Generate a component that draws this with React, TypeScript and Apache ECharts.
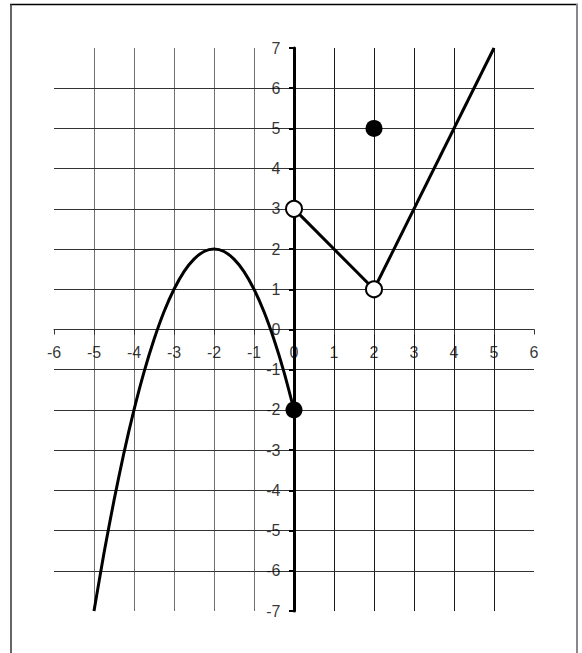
import React, { useEffect, useRef } from "react";
import * as echarts from "echarts";

const xRange = [-6, 6];
const yRange = [-7, 7];
const xTickLabels = [-6, -5, -4, -3, -2, -1, 0, 1, 2, 3, 4, 5, 6];
const yTickLabels = [-7, -6, -5, -4, -3, -2, -1, 0, 1, 2, 3, 4, 5, 6, 7];
const parabolaX = [-5, -4.75, -4.5, -4.25, -4, -3.75, -3.5, -3.25, -3, -2.75, -2.5, -2.25, -2, -1.75, -1.5, -1.25, -1, -0.75, -0.5, -0.25, 0];
const parabolaY = [-7, -5.56, -4.25, -3.06, -2, -1.06, -0.25, 0.44, 1, 1.44, 1.75, 1.94, 2, 1.94, 1.75, 1.44, 1, 0.44, -0.25, -1.06, -2];
const middleSegment = [[0, 3], [2, 1]];
const rightSegment = [[2, 1], [5, 7]];
const openPoints = [[0, 3], [2, 1]];
const filledPoints = [[0, -2], [2, 5]];

const W = 582;
const H = 653;

export default function App() {
  const ref = useRef<HTMLDivElement>(null);
  useEffect(() => {
    document.body.style.margin = "0";
    const chart = echarts.init(ref.current!, null, { renderer: "svg" });
    const font = { fontFamily: "'Liberation Sans', Arial, sans-serif", fontSize: 16, color: "#000" };
    const xCount = xRange[1] - xRange[0] + 1;
    const yCount = yRange[1] - yRange[0] + 1;
    const xColors: string[] = [];
    for (let i = 0; i < xCount; i++) {
      const v = xRange[0] + i;
      xColors.push(i === 0 || i === xCount - 1 ? "rgba(0,0,0,0)" : v < 0 ? "#707070" : "#1a1a1a");
    }
    const yColors: string[] = [];
    for (let i = 0; i < yCount; i++) {
      yColors.push(i === 0 || i === yCount - 1 ? "rgba(0,0,0,0)" : "#333");
    }
    const parabola = parabolaX.map((x, i) => [x, parabolaY[i]]);
    chart.setOption({
      animation: false,
      backgroundColor: "#fff",
      grid: { left: 54, right: W - 534, top: 48, bottom: H - 611, containLabel: false },
      graphic: [
        { type: "line", shape: { x1: 10, y1: 4.5, x2: 578, y2: 4.5 }, style: { stroke: "#000", lineWidth: 1.5 } },
        { type: "line", shape: { x1: 11, y1: 4, x2: 11, y2: H + 5 }, style: { stroke: "#333", lineWidth: 1.5 } },
        { type: "line", shape: { x1: 577, y1: 4, x2: 577, y2: H + 5 }, style: { stroke: "#888", lineWidth: 2 } },
      ],
      xAxis: {
        type: "value",
        min: xRange[0],
        max: xRange[1],
        interval: 1,
        axisLine: { onZero: true, lineStyle: { color: "#333", width: 1 } },
        axisTick: { show: true, length: 5, lineStyle: { color: "#333", width: 1 } },
        axisLabel: { show: false },
        splitLine: { show: true, lineStyle: { color: xColors, width: 1 } },
        z: 1,
      },
      yAxis: {
        type: "value",
        min: yRange[0],
        max: yRange[1],
        interval: 1,
        axisLine: { onZero: true, lineStyle: { color: "#000", width: 3 } },
        axisTick: { show: true, length: 5, lineStyle: { color: "#000", width: 2 } },
        axisLabel: { show: false },
        splitLine: { show: true, lineStyle: { color: yColors, width: 1 } },
        z: 2,
      },
      series: [
        {
          type: "scatter",
          data: xTickLabels.map((v) => [v, 0]),
          symbolSize: 1,
          itemStyle: { color: "rgba(0,0,0,0)" },
          label: {
            show: true,
            position: "bottom",
            distance: 14,
            formatter: (p: any) => String(p.value[0]),
            ...font,
          },
          silent: true,
          z: 2,
        },
        {
          type: "scatter",
          data: yTickLabels.map((v) => [0, v]),
          symbolSize: 1,
          itemStyle: { color: "rgba(0,0,0,0)" },
          label: {
            show: true,
            position: "left",
            distance: 13,
            formatter: (p: any) => String(p.value[1]),
            ...font,
          },
          silent: true,
          z: 2,
        },
        {
          type: "line",
          data: parabola,
          smooth: 0.25,
          showSymbol: false,
          lineStyle: { color: "#000", width: 3 },
          z: 3,
        },
        {
          type: "line",
          data: middleSegment,
          showSymbol: false,
          lineStyle: { color: "#000", width: 3 },
          z: 3,
        },
        {
          type: "line",
          data: rightSegment,
          showSymbol: false,
          lineStyle: { color: "#000", width: 3 },
          z: 3,
        },
        {
          type: "scatter",
          data: openPoints,
          symbol: "circle",
          symbolSize: 16,
          itemStyle: { color: "#fff", borderColor: "#000", borderWidth: 2, opacity: 1 },
          z: 4,
        },
        {
          type: "scatter",
          data: filledPoints,
          symbol: "circle",
          symbolSize: 17,
          itemStyle: { color: "#000", opacity: 1 },
          z: 4,
        },
      ],
    });
    return () => chart.dispose();
  }, []);
  return <div ref={ref} style={{ width: W, height: H }} />;
}
